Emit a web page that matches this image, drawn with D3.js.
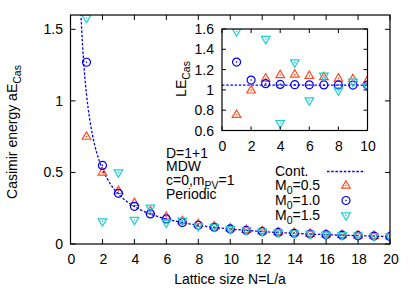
<!DOCTYPE html>
<html>
<head>
<meta charset="utf-8">
<script src="https://cdn.jsdelivr.net/npm/d3@7"></script>
<style>
  body { margin: 0; background: #fff; }
  text { font-family: "Liberation Sans", Arial, sans-serif; font-size: 14px; fill: #000; }
</style>
</head>
<body>
<div id="grafico"></div>
<script>
// datos
const N_PUNTOS = [1, 2, 3, 4, 5, 6, 7, 8, 9, 10, 11, 12, 13, 14, 15, 16, 17, 18, 19, 20];
const E_M05 = [0.75, 0.50, 0.371, 0.287, 0.230, 0.190, 0.161, 0.139, 0.123, 0.109, 0.0985, 0.090, 0.083, 0.0775, 0.072, 0.0675, 0.0635, 0.060, 0.057, 0.054];
const E_M10 = [1.27, 0.549, 0.354, 0.2635, 0.210, 0.175, 0.150, 0.131, 0.1165, 0.105, 0.0953, 0.0873, 0.0806, 0.0748, 0.0698, 0.0655, 0.0616, 0.0582, 0.0551, 0.0524];
const E_M15 = [1.58, 0.158, 0.500, 0.168, 0.254, 0.149, 0.163, 0.124, 0.120, 0.1034, 0.097, 0.0865, 0.081, 0.0745, 0.070, 0.0655, 0.0618, 0.058, 0.0553, 0.0523];

// curva continua
const N_CONT = [0.65, 0.7, 0.75, 0.8, 0.9, 1, 1.1, 1.25, 1.5, 1.75, 2, 2.5, 3, 3.5, 4, 5, 6, 7, 8, 9, 10, 12, 14, 16, 18, 20];
const E_CONT = [1.61, 1.50, 1.40, 1.31, 1.16, 1.047, 0.952, 0.838, 0.698, 0.598, 0.524, 0.419, 0.349, 0.299, 0.262, 0.209, 0.175, 0.150, 0.131, 0.116, 0.105, 0.087, 0.075, 0.065, 0.058, 0.052];

// inset: L*E
const N_INSET = [1, 2, 3, 4, 5, 6, 7, 8, 9, 10];
const LE_M05 = [0.755, 0.995, 1.113, 1.146, 1.152, 1.139, 1.127, 1.113, 1.107, 1.093];
const LE_M10 = [1.274, 1.097, 1.061, 1.054, 1.051, 1.050, 1.049, 1.049, 1.048, 1.048];
const LE_M15 = [1.576, 0.316, 1.501, 0.673, 1.271, 0.896, 1.139, 0.995, 1.080, 1.034];
const LE_CONT_X = [0, 10];
const LE_CONT = [1.047, 1.047];

const X_TICKS = d3.range(0, 21, 2);
const Y_TICKS = [0, 0.5, 1, 1.5];
const X_TICKS_IN = d3.range(0, 11, 2);
const Y_TICKS_IN = [0.6, 0.8, 1, 1.2, 1.4, 1.6];

const WIDTH = 415;
const HEIGHT = 291;
const COLOR_05 = "#ff4a1c";
const COLOR_10 = "#0000ff";
const COLOR_15 = "#1ccfcf";

const SVG = d3.select("#grafico").append("svg").attr("width", WIDTH).attr("height", HEIGHT);

const escalaX = d3.scaleLinear().domain([0, 20]).range([70.5, 390]);
const escalaY = d3.scaleLinear().domain([0, 1.6]).range([244, 15]);
const escalaXi = d3.scaleLinear().domain([0, 10]).range([222, 367.5]);
const escalaYi = d3.scaleLinear().domain([0.6, 1.6]).range([130.5, 29]);

const triArriba = "M0,-4.8L4.3,2.6L-4.3,2.6Z";
const triAbajo = "M0,4.8L4.3,-2.6L-4.3,-2.6Z";

function marco(g, ex, ey, xt, yt, largo) {
    var x0 = ex.range()[0], x1 = ex.range()[1];
    var y0 = ey.range()[0], y1 = ey.range()[1];
    g.selectAll(".tx").data(xt).enter().append("path")
        .attr("d", d => "M" + ex(d) + "," + y0 + "v" + (-largo) + "M" + ex(d) + "," + y1 + "v" + largo)
        .attr("stroke", "#000").attr("stroke-width", 1);
    g.selectAll(".ty").data(yt).enter().append("path")
        .attr("d", d => "M" + x0 + "," + ey(d) + "h" + largo + "M" + x1 + "," + ey(d) + "h" + (-largo))
        .attr("stroke", "#000").attr("stroke-width", 1);
    g.append("rect").attr("x", x0).attr("y", y1).attr("width", x1 - x0).attr("height", y0 - y1)
        .attr("fill", "none").attr("stroke", "#000").attr("stroke-width", 1.2);
}

function puntos(g, ex, ey, xs, ys, tipo, color) {
    var pts = g.append("g");
    xs.forEach(function(n, i) {
        var p = pts.append("g").attr("transform", "translate(" + ex(n) + "," + ey(ys[i]) + ")");
        if (tipo === "circ") {
            p.append("circle").attr("r", 4).attr("fill", "none").attr("stroke", color).attr("stroke-width", 1.2);
        } else {
            p.append("path").attr("d", tipo === "up" ? triArriba : triAbajo)
                .attr("fill", "none").attr("stroke", color).attr("stroke-width", 1.2);
        }
        p.append("circle").attr("r", 0.8).attr("fill", color);
    });
}

// clips
SVG.append("clipPath").attr("id", "clipMain").append("rect")
    .attr("x", 70.5).attr("y", 15).attr("width", 390 - 70.5).attr("height", 244 - 15);
SVG.append("clipPath").attr("id", "clipIn").append("rect")
    .attr("x", 222).attr("y", 29).attr("width", 367.5 - 222).attr("height", 130.5 - 29);

// grafico principal
const principal = SVG.append("g");
const datosP = principal.append("g").attr("clip-path", "url(#clipMain)");

var linea = d3.line().x((d, i) => escalaX(N_CONT[i])).y(d => escalaY(d)).curve(d3.curveMonotoneX);
datosP.append("path").attr("d", linea(E_CONT))
    .attr("fill", "none").attr("stroke", COLOR_10).attr("stroke-width", 1.3).attr("stroke-dasharray", "2.5,1.7");

puntos(datosP, escalaX, escalaY, N_PUNTOS, E_M05, "up", COLOR_05);
puntos(datosP, escalaX, escalaY, N_PUNTOS, E_M10, "circ", COLOR_10);
puntos(datosP, escalaX, escalaY, N_PUNTOS, E_M15, "down", COLOR_15);

marco(principal, escalaX, escalaY, X_TICKS, Y_TICKS, 5);

principal.selectAll(".lx").data(X_TICKS).enter().append("text")
    .attr("x", d => escalaX(d) + 1).attr("y", 264).attr("text-anchor", "middle").text(d => d);
principal.selectAll(".ly").data(Y_TICKS).enter().append("text")
    .attr("x", 63).attr("y", d => escalaY(d) + 5).attr("text-anchor", "end").text(d => d);

var ylab = principal.append("text").attr("transform", "translate(17,132) rotate(-90)").attr("text-anchor", "middle");
ylab.append("tspan").text("Casimir energy aE");
ylab.append("tspan").attr("dy", 4).attr("font-size", "10.5px").text("Cas");

principal.append("text").attr("x", 230).attr("y", 284).attr("text-anchor", "middle").text("Lattice size N=L/a");

// texto de parametros
principal.append("text").attr("x", 166).attr("y", 157.5).text("D=1+1");
principal.append("text").attr("x", 166).attr("y", 171).text("MDW");
var ct = principal.append("text").attr("x", 166).attr("y", 184.5);
ct.append("tspan").text("c=0,m");
ct.append("tspan").attr("dy", 4).attr("font-size", "10.5px").text("PV");
ct.append("tspan").attr("dy", -4).text("=1");
principal.append("text").attr("x", 166).attr("y", 198.5).text("Periodic");

// leyenda
const leyenda = principal.append("g");
leyenda.append("text").attr("x", 275).attr("y", 176).text("Cont.");
leyenda.append("line").attr("x1", 327).attr("x2", 365).attr("y1", 171.5).attr("y2", 171.5)
    .attr("stroke", COLOR_10).attr("stroke-width", 1.3).attr("stroke-dasharray", "2.5,1.7");
var etiquetas = ["0.5", "1.0", "1.5"];
var tipos = ["up", "circ", "down"];
var colores = [COLOR_05, COLOR_10, COLOR_15];
etiquetas.forEach(function(e, i) {
    var yy = 185.5 + i * 15;
    var t = leyenda.append("text").attr("x", 275).attr("y", yy + 4.7);
    t.append("tspan").text("M");
    t.append("tspan").attr("dy", 4).attr("font-size", "10.5px").text("0");
    t.append("tspan").attr("dy", -4).text("=" + e);
    puntos(leyenda, d3.scaleIdentity(), d3.scaleIdentity(), [346], [yy], tipos[i], colores[i]);
});

// inset
const inset = SVG.append("g");
inset.append("rect").attr("x", 222).attr("y", 29).attr("width", 367.5 - 222).attr("height", 130.5 - 29).attr("fill", "#fff");
const datosI = inset.append("g").attr("clip-path", "url(#clipIn)");
var lineaIn = d3.line().x((d, i) => escalaXi(LE_CONT_X[i])).y(d => escalaYi(d));
datosI.append("path").attr("d", lineaIn(LE_CONT))
    .attr("fill", "none").attr("stroke", COLOR_10).attr("stroke-width", 1.3).attr("stroke-dasharray", "2.5,1.7");
puntos(datosI, escalaXi, escalaYi, N_INSET, LE_M05, "up", COLOR_05);
puntos(datosI, escalaXi, escalaYi, N_INSET, LE_M10, "circ", COLOR_10);
puntos(datosI, escalaXi, escalaYi, N_INSET, LE_M15, "down", COLOR_15);

marco(inset, escalaXi, escalaYi, X_TICKS_IN, Y_TICKS_IN, 4);

inset.selectAll(".lxi").data(X_TICKS_IN).enter().append("text")
    .attr("x", d => escalaXi(d) + 0.5).attr("y", 151).attr("text-anchor", "middle").text(d => d);
inset.selectAll(".lyi").data(Y_TICKS_IN).enter().append("text")
    .attr("x", 214).attr("y", d => escalaYi(d) + 5).attr("text-anchor", "end").text(d => d);

var ylabIn = inset.append("text").attr("transform", "translate(186,79) rotate(-90)").attr("text-anchor", "middle");
ylabIn.append("tspan").text("LE");
ylabIn.append("tspan").attr("dy", 4).attr("font-size", "10.5px").text("Cas");
</script>
</body>
</html>
